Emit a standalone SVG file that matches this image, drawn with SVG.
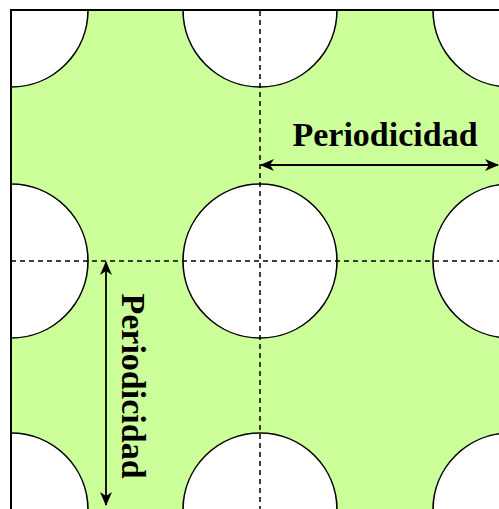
<svg xmlns="http://www.w3.org/2000/svg" width="499" height="509" viewBox="0 0 499 509">
  <style>
    .hole { fill: #ffffff; stroke: #000000; stroke-width: 1.6; }
    .grid { stroke: #000000; stroke-width: 1.5; stroke-dasharray: 5 4; fill: none; }
    .dim { stroke: #000000; stroke-width: 1.8; fill: none; marker-start: url(#arr); marker-end: url(#arr); }
    .lbl { font-family: "Liberation Serif", "Times New Roman", serif; font-weight: bold; font-size: 34px; fill: #000000; text-anchor: middle; }
    .border { stroke: #000000; stroke-width: 2; fill: none; }
  </style>
  <defs>
    <clipPath id="plate">
      <rect x="11" y="10" width="488" height="499"/>
    </clipPath>
    <marker id="arr" viewBox="0 0 14 12" refX="13" refY="6" markerWidth="14" markerHeight="12" markerUnits="userSpaceOnUse" orient="auto-start-reverse">
      <path d="M0,0 L14,6 L0,12 L4,6 z" fill="#000000"/>
    </marker>
  </defs>
  <rect x="0" y="0" width="499" height="509" fill="#ffffff"/>
  <rect x="11" y="10" width="488" height="499" fill="#ccff99"/>
  <g id="holes" clip-path="url(#plate)">
    <g id="hole-r1c1"><circle class="hole" cx="11" cy="10" r="77"/></g>
    <g id="hole-r1c2"><circle class="hole" cx="260" cy="10" r="77"/></g>
    <g id="hole-r1c3"><circle class="hole" cx="510" cy="10" r="77"/></g>
    <g id="hole-r2c1"><circle class="hole" cx="11" cy="261" r="77"/></g>
    <g id="hole-r2c2"><circle class="hole" cx="260" cy="261" r="77"/></g>
    <g id="hole-r2c3"><circle class="hole" cx="510" cy="261" r="77"/></g>
    <g id="hole-r3c1"><circle class="hole" cx="11" cy="510" r="77"/></g>
    <g id="hole-r3c2"><circle class="hole" cx="260" cy="510" r="77"/></g>
    <g id="hole-r3c3"><circle class="hole" cx="510" cy="510" r="77"/></g>
  </g>
  <g id="axes">
    <line class="grid" x1="260" y1="11" x2="260" y2="509"/>
    <line class="grid" x1="11" y1="261" x2="499" y2="261"/>
  </g>
  <g id="connectors">
    <line class="dim" x1="261" y1="165" x2="498" y2="165"/>
    <line class="dim" x1="106" y1="262" x2="106" y2="505"/>
  </g>
  <g id="label-h"><text class="lbl" x="385" y="146">Periodicidad</text></g>
  <g id="label-v"><text class="lbl" transform="translate(122,386) rotate(90)" x="0" y="0">Periodicidad</text></g>
  <path class="border" d="M11,509 L11,10 L499,10"/>
</svg>
